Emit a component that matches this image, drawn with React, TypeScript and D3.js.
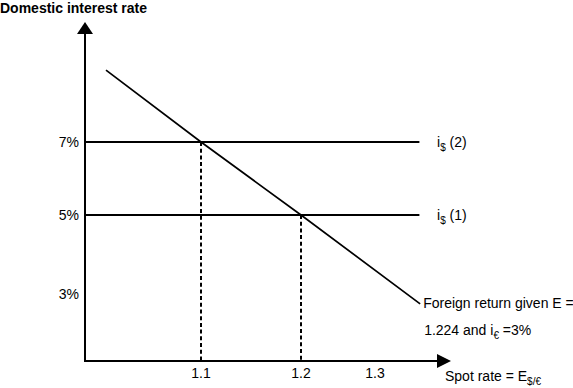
import React from "react";
import * as d3 from "d3";

// ---- data ----
const xTickValues = [1.1, 1.2, 1.3];
const xTickLabels = ["1.1", "1.2", "1.3"];
const yTickValues = [3, 5, 7];
const yTickLabels = ["3%", "5%", "7%"];

// domestic interest rate lines i$(1) = 5%, i$(2) = 7%
const rateValues = [5, 7];
const rateLabels = ["(1)", "(2)"];
const rateLineXStart = 0.985;
const rateLineXEnd = 1.36;

// equilibrium spot rates (dashed drop lines)
const eqX = [1.1, 1.2];
const eqY = [7, 5];

// foreign return curve (downward sloping line)
const foreignX = [1.005, 1.1, 1.2, 1.361];
const foreignY = [8.97, 7, 5, 2.75];

const W = 573;
const H = 388;
const font = "'Liberation Sans', Arial, Helvetica, sans-serif";

export default function App() {
  const x = d3.scaleLinear().domain(xTickValues).range([201, 301, 375]);
  const y = d3.scaleLinear().domain(yTickValues).range([294, 215, 142]);

  const axisX = 85;
  const axisY = 361;
  const axisTop = 22;
  const axisRight = 451;

  const foreignPts: [number, number][] = foreignX.map((v, i) => [v, foreignY[i]]);
  const linePath = d3
    .line<[number, number]>()
    .x((d) => x(d[0]))
    .y((d) => y(d[1]))(foreignPts) as string;

  const lastX = x(foreignX[foreignX.length - 1]);

  return (
    <svg
      width={W}
      height={H}
      style={{ position: "absolute", left: 0, top: 0, background: "#fff" }}
      fontFamily={font}
    >
      <rect width={W} height={H} fill="#fff" />
      {/* title */}
      <text x={0} y={13} fontSize={14} fontWeight="bold" fill="#000">
        Domestic interest rate
      </text>

      {/* axes */}
      <line x1={axisX} y1={axisTop + 8} x2={axisX} y2={axisY + 1} stroke="#000" strokeWidth={2} />
      <path
        d={`M${axisX},${axisTop} L${axisX + 8},${axisTop + 12} L${axisX - 8},${axisTop + 12} Z`}
        fill="#000"
      />
      <line x1={axisX - 1} y1={axisY} x2={axisRight - 8} y2={axisY} stroke="#000" strokeWidth={2} />
      <path
        d={`M${axisRight},${axisY} L${axisRight - 14},${axisY - 7} L${axisRight - 14},${axisY + 7} Z`}
        fill="#000"
      />

      {/* y tick labels */}
      {yTickValues.map((v, i) => (
        <text key={i} x={79} y={y(v) + 5} fontSize={14} textAnchor="end" fill="#000">
          {yTickLabels[i]}
        </text>
      ))}

      {/* x tick labels */}
      {xTickValues.map((v, i) => (
        <text key={i} x={x(v)} y={378} fontSize={14} textAnchor="middle" fill="#000">
          {xTickLabels[i]}
        </text>
      ))}

      {/* rate lines */}
      {rateValues.map((r, i) => (
        <g key={i}>
          <line
            x1={x(rateLineXStart)}
            x2={x(rateLineXEnd)}
            y1={y(r)}
            y2={y(r)}
            stroke="#000"
            strokeWidth={2}
          />
          <text x={437} y={y(r) + 5} fontSize={14} fill="#000">
            i
            <tspan fontSize={10} dy={4}>$</tspan>
            <tspan dy={-4}> {rateLabels[i]}</tspan>
          </text>
        </g>
      ))}

      {/* dashed drop lines */}
      {eqX.map((v, i) => (
        <line
          key={i}
          x1={x(v)}
          x2={x(v)}
          y1={y(eqY[i])}
          y2={axisY}
          stroke="#000"
          strokeWidth={2}
          strokeDasharray="4,2.7"
        />
      ))}

      {/* foreign return line */}
      <path d={linePath} fill="none" stroke="#000" strokeWidth={1.7} />
      <text x={lastX + 3} y={308} fontSize={14} fill="#000">
        Foreign return given E =
      </text>
      <text x={lastX + 4} y={335} fontSize={14} fill="#000">
        1.224 and i
        <tspan fontSize={10} dy={4}>€</tspan>
        <tspan dy={-4}> =3%</tspan>
      </text>

      {/* x axis title */}
      <text x={445} y={381} fontSize={14} fill="#000">
        Spot rate = E
        <tspan fontSize={10} dy={4}>$/€</tspan>
      </text>
    </svg>
  );
}
